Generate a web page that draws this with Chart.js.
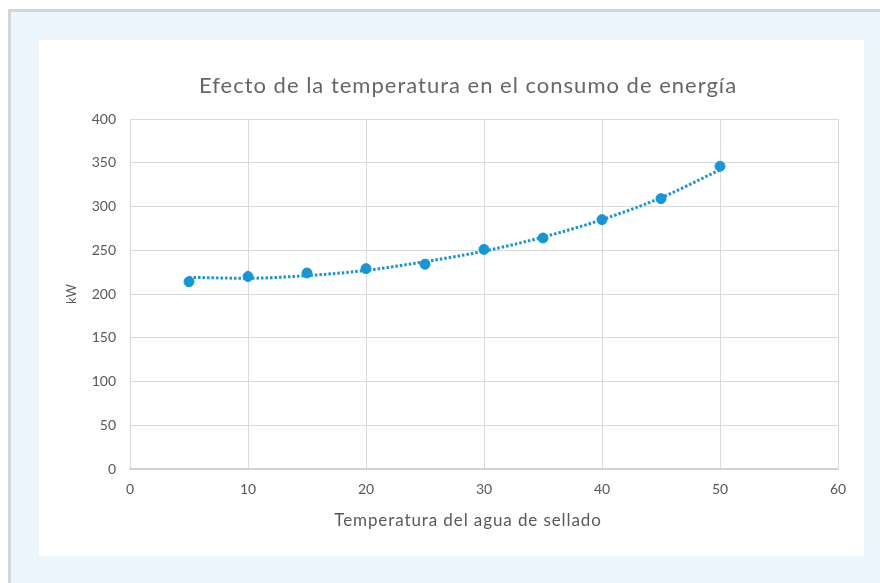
<!DOCTYPE html>
<html lang="es">
<head>
<meta charset="utf-8">
<title>Efecto de la temperatura en el consumo de energía</title>
<script src="https://cdn.jsdelivr.net/npm/chart.js@4.4.0/dist/chart.umd.min.js"></script>
<style>
    html, body { margin: 0; padding: 0; }
    body {
        width: 880px;
        height: 583px;
        background: #ffffff;
        position: relative;
        overflow: hidden;
    }
    .frame {
        position: absolute;
        left: 8px;
        top: 9px;
        right: -10px;
        bottom: -10px;
        background: #eef6fd;
        border-left: 3px solid #d6d6d6;
        border-top: 3px solid #d6d6d6;
    }
    .panel {
        position: absolute;
        left: 39px;
        top: 40px;
        width: 825px;
        height: 516px;
        background: #ffffff;
    }
</style>
</head>
<body>
<div class="frame"></div>
<div class="panel">
    <canvas id="energyChart" width="825" height="516"></canvas>
</div>
<script>
// ===== DATA =====
const temps = [5, 10, 15, 20, 25, 30, 35, 40, 45, 50];
const power = [214, 220, 224, 229, 234, 251, 264, 285, 309, 346];
// trendline at the same temperatures
const trend = [219, 218, 221, 227, 237, 249, 265, 285, 310, 342];
const xTicks = [0, 10, 20, 30, 40, 50, 60];
const yTicks = [0, 50, 100, 150, 200, 250, 300, 350, 400];

const chartTitle = 'Efecto de la temperatura en el consumo de energía';
const xTitle = 'Temperatura del agua de sellado';
const yTitle = 'kW';

const blue = '#1596d8';
const textGray = '#595959';

// Excel centres the titles on the chart area, not on the plot
const titlePlugin = {
    id: 'centredTitles',
    afterDraw(chart) {
        const c = chart.ctx;
        c.save();
        c.textAlign = 'center';
        c.textBaseline = 'middle';
        c.fillStyle = '#666666';
        c.font = '22px Lato';
        c.letterSpacing = '1px';
        c.fillText(chartTitle, 429, 46);
        c.fillStyle = textGray;
        c.font = '17px Lato';
        c.letterSpacing = '0.9px';
        c.fillText(xTitle, 429, 481);
        c.restore();
    }
};

document.addEventListener('DOMContentLoaded', function() {
    const ctx = document.getElementById('energyChart');

    const config = {
        type: 'scatter',
        data: {
            datasets: [{
                label: 'kW',
                data: temps.map((t, i) => ({ x: t, y: power[i] })),
                backgroundColor: blue,
                borderColor: blue,
                pointRadius: 5,
                pointStyle: 'circle',
                showLine: false,
                order: 1
            }, {
                label: 'Tendencia',
                data: temps.map((t, i) => ({ x: t, y: trend[i] })),
                showLine: true,
                borderColor: blue,
                borderWidth: 3,
                borderDash: [2.5, 2],
                borderCapStyle: 'butt',
                cubicInterpolationMode: 'monotone',
                pointRadius: 0,
                fill: false,
                order: 2
            }]
        },
        options: {
            responsive: false,
            animation: false,
            layout: {
                padding: { left: 20, right: 26, top: 79, bottom: 0 }
            },
            plugins: {
                legend: { display: false },
                tooltip: { enabled: false }
            },
            scales: {
                x: {
                    type: 'linear',
                    min: 0,
                    max: 60,
                    afterBuildTicks: function(scale) {
                        scale.ticks = xTicks.map(v => ({ value: v }));
                    },
                    afterFit: function(scale) {
                        scale.height = 87;
                    },
                    grid: {
                        color: '#d9d9d9',
                        lineWidth: 1,
                        drawTicks: false
                    },
                    border: { color: '#cfcfcf', width: 1.5 },
                    ticks: {
                        color: textGray,
                        padding: 12,
                        maxRotation: 0,
                        font: { family: 'Lato', size: 14 }
                    }
                },
                y: {
                    min: 0,
                    max: 400,
                    afterBuildTicks: function(scale) {
                        scale.ticks = yTicks.map(v => ({ value: v }));
                    },
                    afterFit: function(scale) {
                        scale.width = 71;
                    },
                    grid: {
                        color: '#d9d9d9',
                        lineWidth: 1,
                        drawTicks: false
                    },
                    border: { display: false },
                    ticks: {
                        color: textGray,
                        padding: 14,
                        font: { family: 'Lato', size: 14 }
                    },
                    title: {
                        display: true,
                        text: yTitle,
                        color: textGray,
                        padding: { top: 5, bottom: 0 },
                        font: { family: 'Lato', size: 13 }
                    }
                }
            }
        },
        plugins: [titlePlugin]
    };

    new Chart(ctx, config);
});
</script>
</body>
</html>
